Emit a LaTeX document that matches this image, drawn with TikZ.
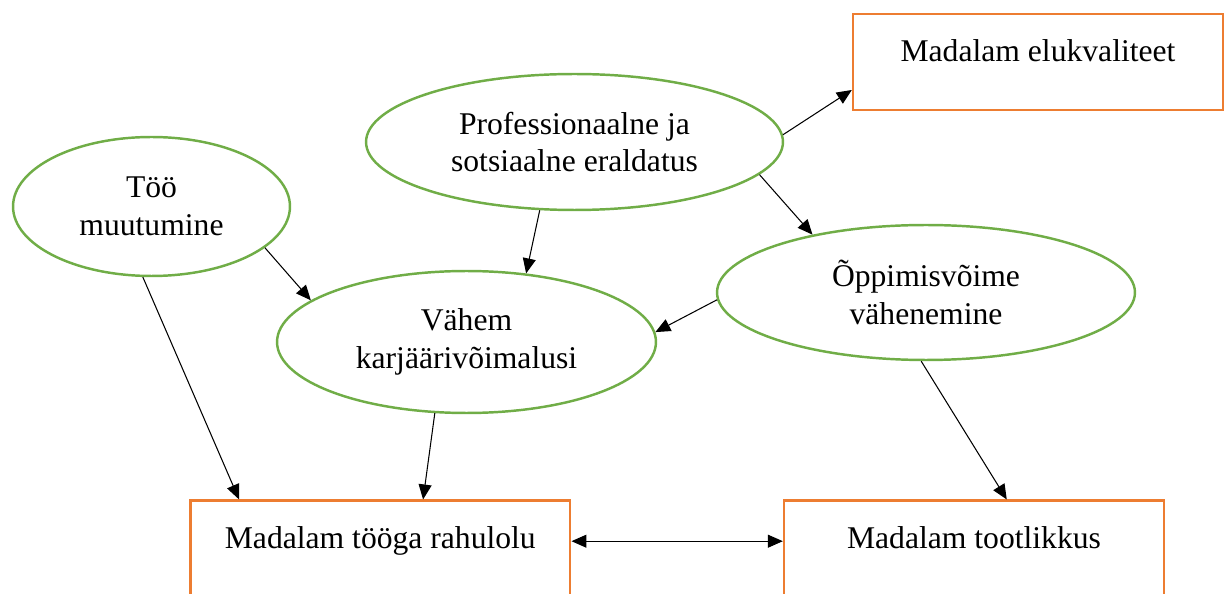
\documentclass[tikz,border=0pt]{standalone}
\usepackage{fontspec}
\setmainfont{Liberation Serif}
\definecolor{leaf}{RGB}{112,173,71}
\definecolor{rust}{RGB}{237,125,49}
\usetikzlibrary{arrows.meta,shapes.geometric}
\tikzset{
  >={Triangle[length=3mm,width=2.6mm]},
  idea/.style={ellipse,draw=leaf,line width=1.4pt,align=center,inner sep=0pt,
               font=\fontsize{18}{21.6}\selectfont},
  result/.style={rectangle,draw=rust,line width=1.4pt,align=center,inner sep=0pt,
                 minimum height=1.92cm,text height=12pt,text depth=12pt,
                 font=\fontsize{18}{21.6}\selectfont},
  arr/.style={->,line width=0.6pt},
  arrboth/.style={<->,line width=0.6pt},
}

\begin{document}
\begin{tikzpicture}[x=0.02cm,y=-0.02cm]
    \useasboundingbox (0,0) rectangle (1224,594);
    \clip (0,0) rectangle (1224,594);
    % causes
    \node[idea,minimum width=5.54cm,minimum height=2.78cm] (too) at (151.5,206.5) {Töö\\muutumine};
    \node[idea,minimum width=8.34cm,minimum height=2.72cm] (prof) at (574.5,142) {Professionaalne ja\\sotsiaalne eraldatus};
    \node[idea,minimum width=7.58cm,minimum height=2.84cm] (vahem) at (466.5,342) {Vähem\\karjäärivõimalusi};
    \node[idea,minimum width=8.36cm,minimum height=2.7cm] (oppim) at (926,292.5) {Õppimisvõime\\vähenemine};
    % outcomes
    \node[result,minimum width=7.4cm] (elu) at (1038,62) {Madalam elukvaliteet};
    \node[result,minimum width=7.6cm] (rahul) at (380.3,548.7) {Madalam tööga rahulolu};
    \node[result,minimum width=7.6cm] (tootl) at (974,548.7) {Madalam tootlikkus};
    \draw[arr] (too.-20.5) -- (vahem.165);
    \draw[arr] (too.-97) -- ([xshift=1cm]rahul.north west);
    \draw[arr] (prof.-117) -- (vahem.49);
    \draw[arr] (prof.2.5) -- ([yshift=-0.56cm]elu.west);
    \draw[arr] (prof.-10) -- (oppim.153);
    \draw[arr] (oppim.182.6) -- (vahem.3.3);
    \draw[arr] (vahem.-114) -- ([xshift=4.68cm]rahul.north west);
    \draw[arr] (oppim.-94) -- ([xshift=4.48cm]tootl.north west);
    \draw[arrboth] ([yshift=0.15cm]rahul.east) -- ([yshift=0.15cm]tootl.west);
\end{tikzpicture}
\end{document}
